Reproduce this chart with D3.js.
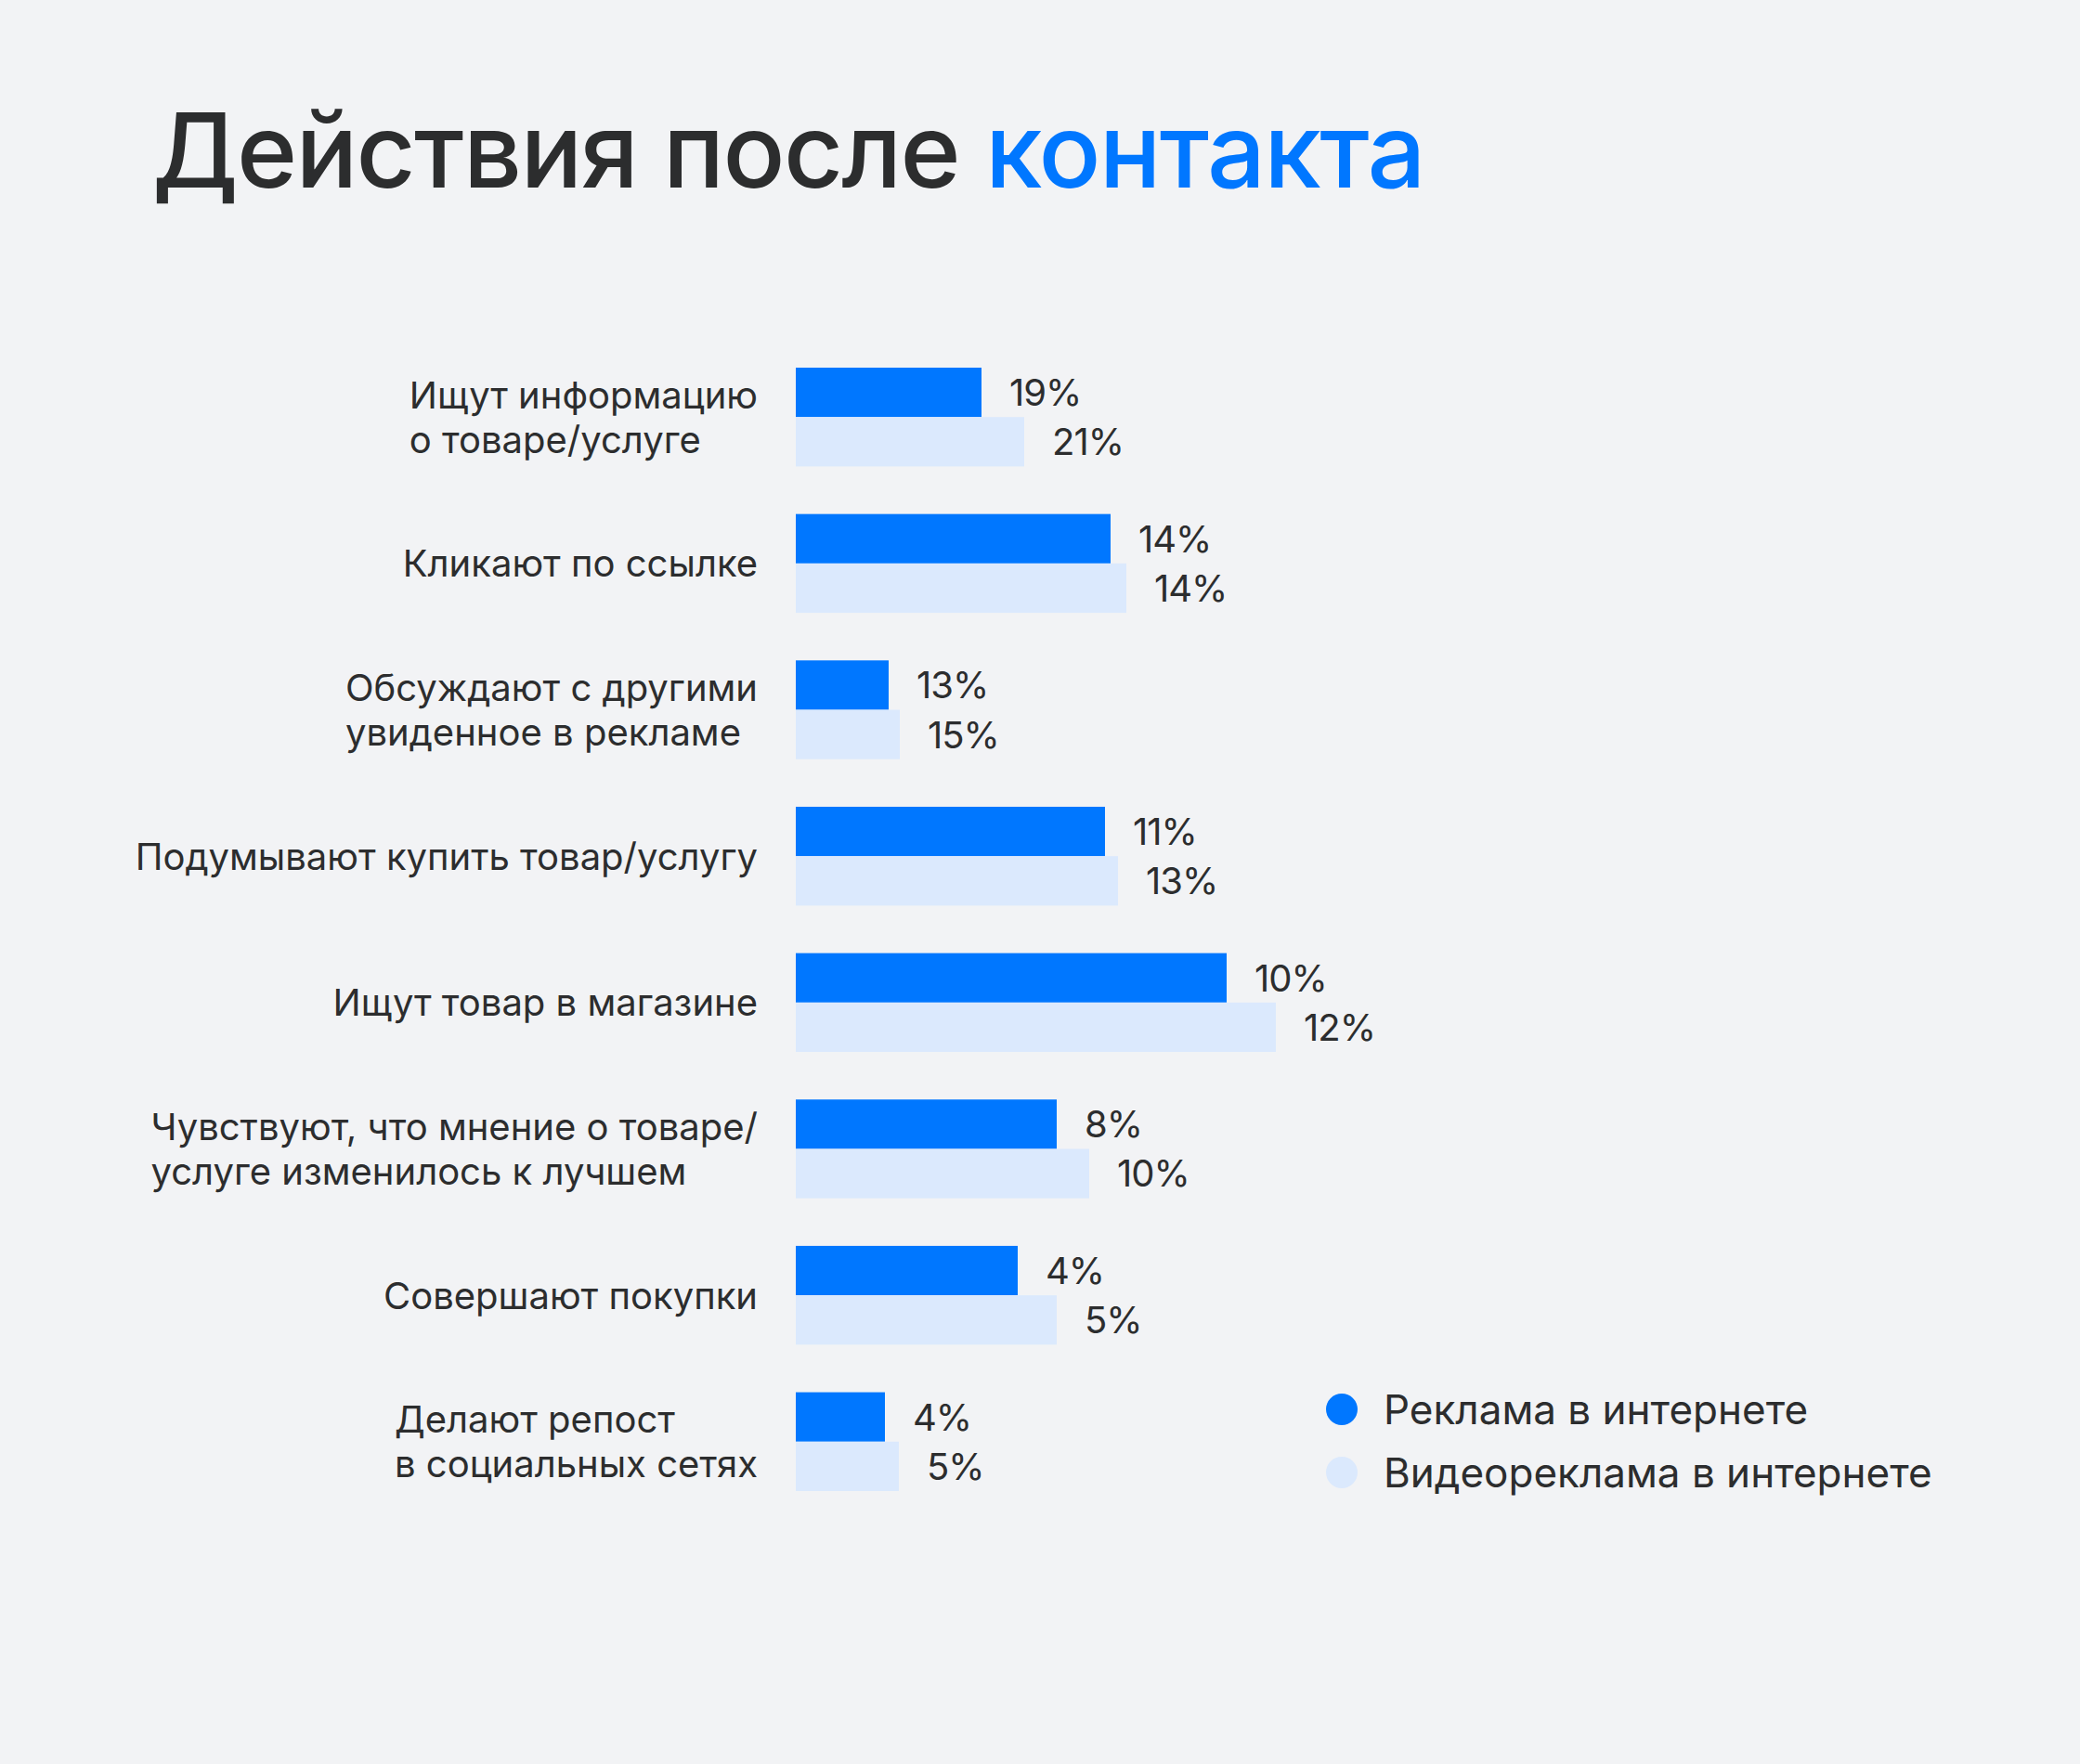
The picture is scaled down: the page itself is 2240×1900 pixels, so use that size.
<!DOCTYPE html>
<html>
<head>
<meta charset="utf-8">
<script src="https://cdn.jsdelivr.net/npm/d3@7"></script>
<style>
  html, body { margin: 0; padding: 0; background: #f2f3f5; }
  svg { display: block; font-family: Inter, "Noto Sans", sans-serif; }
</style>
</head>
<body>
<script>
// categories (line breaks as in the original)
const categories = [
  ['Ищут информацию', 'о товаре/услуге'],
  ['Кликают по ссылке'],
  ['Обсуждают с другими', 'увиденное в рекламе'],
  ['Подумывают купить товар/услугу'],
  ['Ищут товар в магазине'],
  ['Чувствуют, что мнение о товаре/', 'услуге изменилось к лучшем'],
  ['Совершают покупки'],
  ['Делают репост', 'в социальных сетях']
]

// printed shares, %
const webShare = [19, 14, 13, 11, 10, 8, 4, 4]
const videoShare = [21, 14, 15, 13, 12, 10, 5, 5]

// bar lengths as drawn in the original (they don't follow the printed shares)
const webBarLen = [20.0, 33.9, 10.0, 33.3, 46.4, 28.1, 23.9, 9.6]
const videoBarLen = [24.6, 35.6, 11.2, 34.7, 51.7, 31.6, 28.1, 11.1]

const seriesNames = ['Реклама в интернете', 'Видеореклама в интернете']
const seriesColors = ['#0077ff', '#dbe9fd']

const width = 2240
const height = 1900
const textColor = '#2c2d2e'

const svg = d3.select('body')
  .append('svg')
  .attr('width', width)
  .attr('height', height)

svg.append('rect')
  .attr('width', width)
  .attr('height', height)
  .attr('fill', '#f2f3f5')

// title
const title = svg.append('text')
  .attr('x', 164)
  .attr('y', 202)
  .attr('font-size', 111)
  .attr('font-weight', 500)
  .attr('letter-spacing', -1.7)
  .attr('fill', textColor)
title.append('tspan').text('Действия после ')
title.append('tspan').attr('fill', '#0077ff').text('контакта')

// scales
const rows = d3.range(categories.length)

const yScale = d3.scaleBand()
  .domain(rows)
  .range([396, 1606])
  .paddingInner(0.325)
  .paddingOuter(0)

const ySub = d3.scaleBand()
  .domain([0, 1])
  .range([0, yScale.bandwidth()])

const xScale = d3.scaleLinear()
  .domain([0, 50])
  .range([857, 1357])

const rowData = rows.map(i => ({
  i,
  label: categories[i],
  bars: [
    { s: 0, len: webBarLen[i], share: webShare[i] },
    { s: 1, len: videoBarLen[i], share: videoShare[i] }
  ]
}))

const row = svg.append('g')
  .selectAll('g')
  .data(rowData)
  .enter()
  .append('g')
  .attr('transform', d => `translate(0, ${yScale(d.i)})`)

// bars
row.selectAll('rect')
  .data(d => d.bars)
  .enter()
  .append('rect')
  .attr('x', xScale(0))
  .attr('y', d => ySub(d.s))
  .attr('width', d => xScale(d.len) - xScale(0))
  .attr('height', ySub.bandwidth())
  .attr('fill', d => seriesColors[d.s])

// value labels
row.selectAll('text.value')
  .data(d => d.bars)
  .enter()
  .append('text')
  .attr('class', 'value')
  .attr('x', d => xScale(d.len) + 30)
  .attr('y', d => ySub(d.s) + ySub.bandwidth() / 2)
  .attr('dy', '0.36em')
  .attr('font-size', 40)
  .attr('letter-spacing', -1)
  .attr('fill', textColor)
  .text(d => d.share + '%')

// category labels: left-aligned block, right edge near the bars
const labelRight = 816
const lineGap = 48

row.each(function (d) {
  const g = d3.select(this)
  const n = d.label.length
  const mid = yScale.bandwidth() / 2
  const t = g.append('text')
    .attr('font-size', 40)
    .attr('fill', textColor)
  d.label.forEach((line, k) => {
    t.append('tspan')
      .attr('x', 0)
      .attr('y', mid + (k - (n - 1) / 2) * lineGap)
      .attr('dy', '0.36em')
      .text(line)
  })
  const w = t.node().getBBox().width
  t.attr('transform', `translate(${labelRight - w}, 0)`)
})

// legend
const legend = svg.append('g')
  .selectAll('g')
  .data(seriesNames)
  .enter()
  .append('g')
  .attr('transform', (d, i) => `translate(1445, ${1518 + i * 68})`)

legend.append('circle')
  .attr('r', 17)
  .attr('fill', (d, i) => seriesColors[i])

legend.append('text')
  .attr('x', 45)
  .attr('dy', '0.36em')
  .attr('font-size', 44)
  .attr('fill', textColor)
  .text(d => d)
</script>
</body>
</html>
